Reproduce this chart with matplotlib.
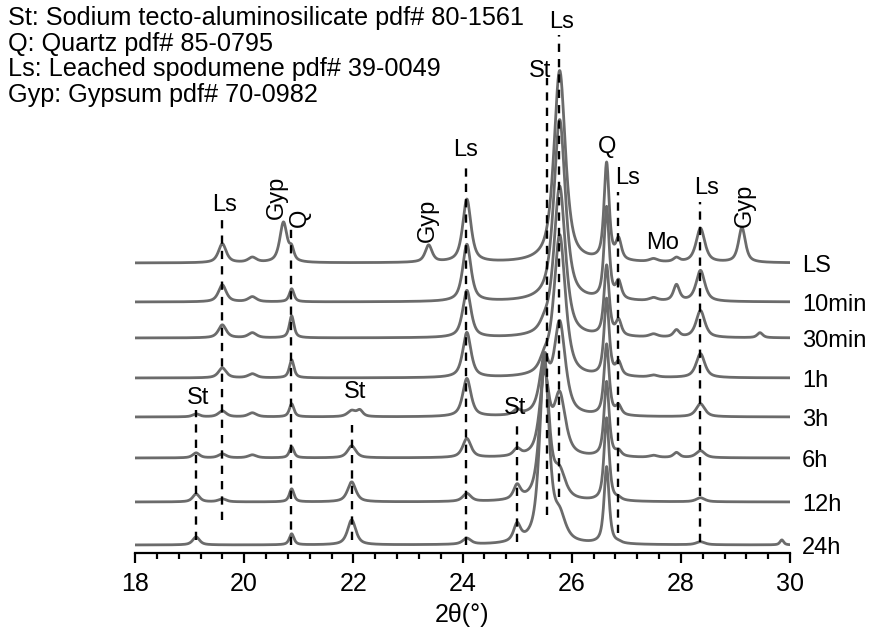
import numpy as np
import matplotlib
matplotlib.use('Agg')
import matplotlib.pyplot as plt
from matplotlib.ticker import MultipleLocator

plt.rcParams['font.family'] = ['Liberation Sans', 'DejaVu Sans']

# sample names (top to bottom) and vertical offsets of each pattern
samples = ['LS', '10min', '30min', '1h', '3h', '6h', '12h', '24h']
offsets = [290, 251, 215, 175, 136, 95, 51, 8]

# peak positions (2theta) and widths
peak_pos = [19.12, 19.6, 20.15, 20.72, 20.87, 21.97, 22.12, 23.38, 24.08, 25.0,
            25.5, 25.78, 26.64, 26.86, 27.5, 27.92, 28.36, 29.12, 29.45, 29.85]
peak_fwhm = [0.15, 0.17, 0.18, 0.16, 0.10, 0.18, 0.13, 0.15, 0.18, 0.15,
             0.20, 0.25, 0.11, 0.12, 0.18, 0.13, 0.19, 0.15, 0.12, 0.08]

# peak heights per sample (same order as peak_pos)
h_LS =    [0, 19, 5, 40, 11, 0, 0, 17, 63, 0, 0, 192, 97, 20, 3, 4, 34, 35, 0, 0]
h_10min = [0, 17, 5, 0, 13, 0, 0, 0, 57, 0, 0, 182, 92, 17, 3, 16, 31, 0, 0, 0]
h_30min = [0, 13, 5, 0, 22, 0, 0, 0, 47, 0, 7, 151, 70, 15, 3, 7, 27, 0, 5, 0]
h_1h =    [0, 10, 4, 0, 18, 0, 0, 0, 45, 0, 12, 142, 77, 13, 2, 0, 24, 0, 0, 0]
h_3h =    [3, 6, 4, 0, 13, 6, 6, 0, 38, 5, 52, 92, 71, 9, 0, 0, 13, 0, 0, 0]
h_6h =    [5, 4, 3, 0, 11, 12, 0, 0, 19, 7, 80, 60, 75, 5, 2, 5, 7, 0, 0, 0]
h_12h =   [8, 3, 0, 0, 13, 20, 0, 0, 8, 14, 137, 25, 83, 2, 0, 0, 4, 0, 0, 0]
h_24h =   [8, 0, 0, 0, 11, 25, 0, 0, 6, 17, 186, 23, 77, 1, 0, 0, 3, 0, 0, 5]
heights = [h_LS, h_10min, h_30min, h_1h, h_3h, h_6h, h_12h, h_24h]

# reference lines: (2theta, top, bottom)
ref_x = [19.12, 19.6, 20.85, 21.97, 24.07, 25.0, 25.55, 25.77, 26.85, 28.35]
ref_top = [143, 335, 325, 128, 391, 133, 475, 518, 361, 351]
ref_bottom = [13, 33, 8, 13, 8, 11, 38, 56, 20, 11]

# phase labels: (text, x, y, rotation)
phase_labels = [('Ls', 19.65, 348, 0), ('Gyp', 20.6, 356, 90), ('Q', 21.02, 335, 90),
                ('Gyp', 23.37, 333, 90), ('Ls', 24.06, 403, 0), ('St', 25.42, 482, 0),
                ('Ls', 25.82, 531, 0), ('Q', 26.64, 406, 0), ('Ls', 27.02, 375, 0),
                ('Mo', 27.67, 310, 0), ('Ls', 28.48, 365, 0), ('Gyp', 29.17, 348, 90),
                ('St', 19.15, 155, 0), ('St', 22.03, 161, 0), ('St', 24.96, 145, 0)]

legend_lines = ['St: Sodium tecto-aluminosilicate pdf# 80-1561',
                'Q: Quartz pdf# 85-0795',
                'Ls: Leached spodumene pdf# 39-0049',
                'Gyp: Gypsum pdf# 70-0982']


def pattern(x, heights, eta=0.72):
    y = np.zeros_like(x)
    for c, w, h in zip(peak_pos, peak_fwhm, heights):
        if h == 0:
            continue
        d = (x - c) / w
        lor = 1.0 / (1.0 + 4.0 * d ** 2)
        gau = np.exp(-4.0 * np.log(2) * d ** 2)
        y += h * (eta * lor + (1 - eta) * gau)
    return y


fig = plt.figure(figsize=(8.73, 6.31), dpi=100)
ax = fig.add_axes([135 / 873, 78 / 631, 655 / 873, 553 / 631])

two_theta = np.linspace(18, 30, 2401)
for name, off, h in zip(samples, offsets, heights):
    ax.plot(two_theta, off + pattern(two_theta, h), color='#6b6b6b', lw=2.0)
    ax.text(30.22, off - 3, name, fontsize=17, ha='left', va='center', clip_on=False)

for x, top, bot in zip(ref_x, ref_top, ref_bottom):
    ax.plot([x, x], [bot, top], color='black', lw=1.7, linestyle=(0, (3.5, 3)))

for txt, x, y, rot in phase_labels:
    ax.text(x, y, txt, fontsize=17, ha='center', va='center', rotation=rot)

for i, line in enumerate(legend_lines):
    fig.text(8 / 873, 1 - (18 + 25.7 * i) / 631, line, fontsize=18.2,
             ha='left', va='center')

ax.set_xlim(18, 30)
ax.set_ylim(0, 553)
ax.xaxis.set_major_locator(MultipleLocator(2))
ax.xaxis.set_minor_locator(MultipleLocator(0.4))
ax.tick_params(axis='x', which='major', direction='out', length=7, width=1.6,
               labelsize=18, pad=7)
ax.tick_params(axis='x', which='minor', direction='out', length=4, width=1.6)
ax.set_yticks([])
for s in ['left', 'right', 'top']:
    ax.spines[s].set_visible(False)
ax.spines['bottom'].set_linewidth(1.6)
ax.set_xlabel('2θ(°)', fontsize=18, labelpad=5)

plt.savefig('out.png', dpi=100)
plt.close()
